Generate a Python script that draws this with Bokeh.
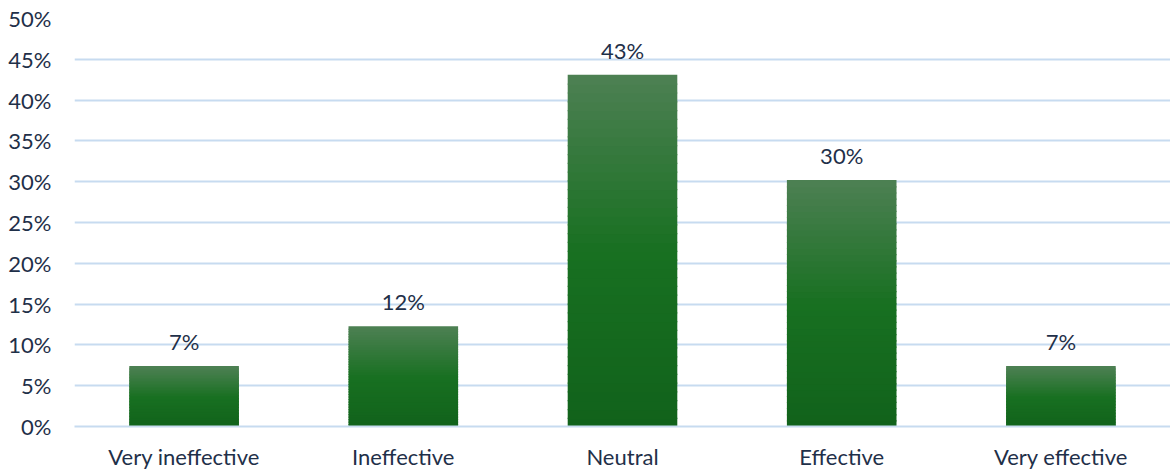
from bokeh.plotting import figure
from bokeh.models import ColumnDataSource, FixedTicker, NumeralTickFormatter, Range1d
from bokeh.core.properties import value
from bokeh.embed import file_html
from bokeh.resources import INLINE

# Survey results: perceived effectiveness (share of respondents, %)
categories = ["Very ineffective", "Ineffective", "Neutral", "Effective", "Very effective"]
shares = [7.4, 12.3, 43.1, 30.2, 7.4]
y_ticks = [0, 5, 10, 15, 20, 25, 30, 35, 40, 45, 50]

FONT = "Lato"
FONT_SIZE = "22px"
TEXT_COLOR = "#1f3049"
GRID_COLOR = "#c7dbf0"

# Vertical gradient stops for the bar fill (fraction of bar height -> RGB)
STOPS = [(0.0, (17, 98, 27)), (0.5, (24, 112, 33)), (1.0, (77, 128, 83))]


def gradient_color(t):
    for (t0, c0), (t1, c1) in zip(STOPS[:-1], STOPS[1:]):
        if t0 <= t <= t1:
            f = (t - t0) / (t1 - t0)
            r, g, b = (round(a + (b_ - a) * f) for a, b_ in zip(c0, c1))
            return "#%02x%02x%02x" % (r, g, b)
    return "#%02x%02x%02x" % STOPS[-1][1]


p = figure(
    x_range=categories,
    y_range=Range1d(0, 50),
    width=1170,
    height=472,
    output_backend="svg",
    toolbar_location=None,
    min_border_left=74,
    min_border_right=0,
    min_border_top=18,
    min_border_bottom=45,
)
p.outline_line_color = None
p.background_fill_color = "white"

# Each bar is filled with thin horizontal bands whose colour fades from light
# at the top to dark at the bottom; bands overlap slightly to hide seams.
BANDS = 40
OVERLAP = 0.15  # in axis units (percent)
bx, bb, bt, bc = [], [], [], []
for cat, v in zip(categories, shares):
    for i in range(BANDS):
        bx.append(cat)
        bb.append(max(0.0, v * i / BANDS - OVERLAP))
        bt.append(v * (i + 1) / BANDS)
        bc.append(gradient_color((i + 0.5) / BANDS))
band_src = ColumnDataSource(dict(x=bx, bottom=bb, top=bt, color=bc))
p.vbar(x="x", bottom="bottom", top="top", width=0.5, source=band_src,
       fill_color="color", line_color=None)

# Value labels above the bars
labels = ["%d%%" % round(v) for v in shares]
lab_src = ColumnDataSource(dict(x=categories, y=shares, text=labels))
p.text(x="x", y="y", text="text", source=lab_src, text_font=value(FONT),
       text_font_size=FONT_SIZE, text_color=TEXT_COLOR, text_align="center",
       text_baseline="bottom", y_offset=-11)

# Axes
p.yaxis.ticker = FixedTicker(ticks=y_ticks)
p.yaxis.formatter = NumeralTickFormatter(format="0")
p.yaxis.major_label_overrides = {t: "%d%%" % t for t in y_ticks}
p.yaxis.axis_line_color = None
p.yaxis.major_tick_line_color = None
p.yaxis.minor_tick_line_color = None
p.yaxis.major_label_text_font = FONT
p.yaxis.major_label_text_font_size = FONT_SIZE
p.yaxis.major_label_text_color = TEXT_COLOR
p.yaxis.major_label_standoff = 17

p.xaxis.axis_line_color = GRID_COLOR
p.xaxis.axis_line_width = 2
p.xaxis.major_tick_line_color = None
p.xaxis.minor_tick_line_color = None
p.xaxis.major_label_text_font = FONT
p.xaxis.major_label_text_font_size = FONT_SIZE
p.xaxis.major_label_text_color = TEXT_COLOR
p.xaxis.major_label_standoff = 10

p.xgrid.grid_line_color = None
p.ygrid.grid_line_color = GRID_COLOR
p.ygrid.grid_line_width = 2
p.ygrid.level = "underlay"

open("out.html", "w").write(file_html(p, INLINE))
